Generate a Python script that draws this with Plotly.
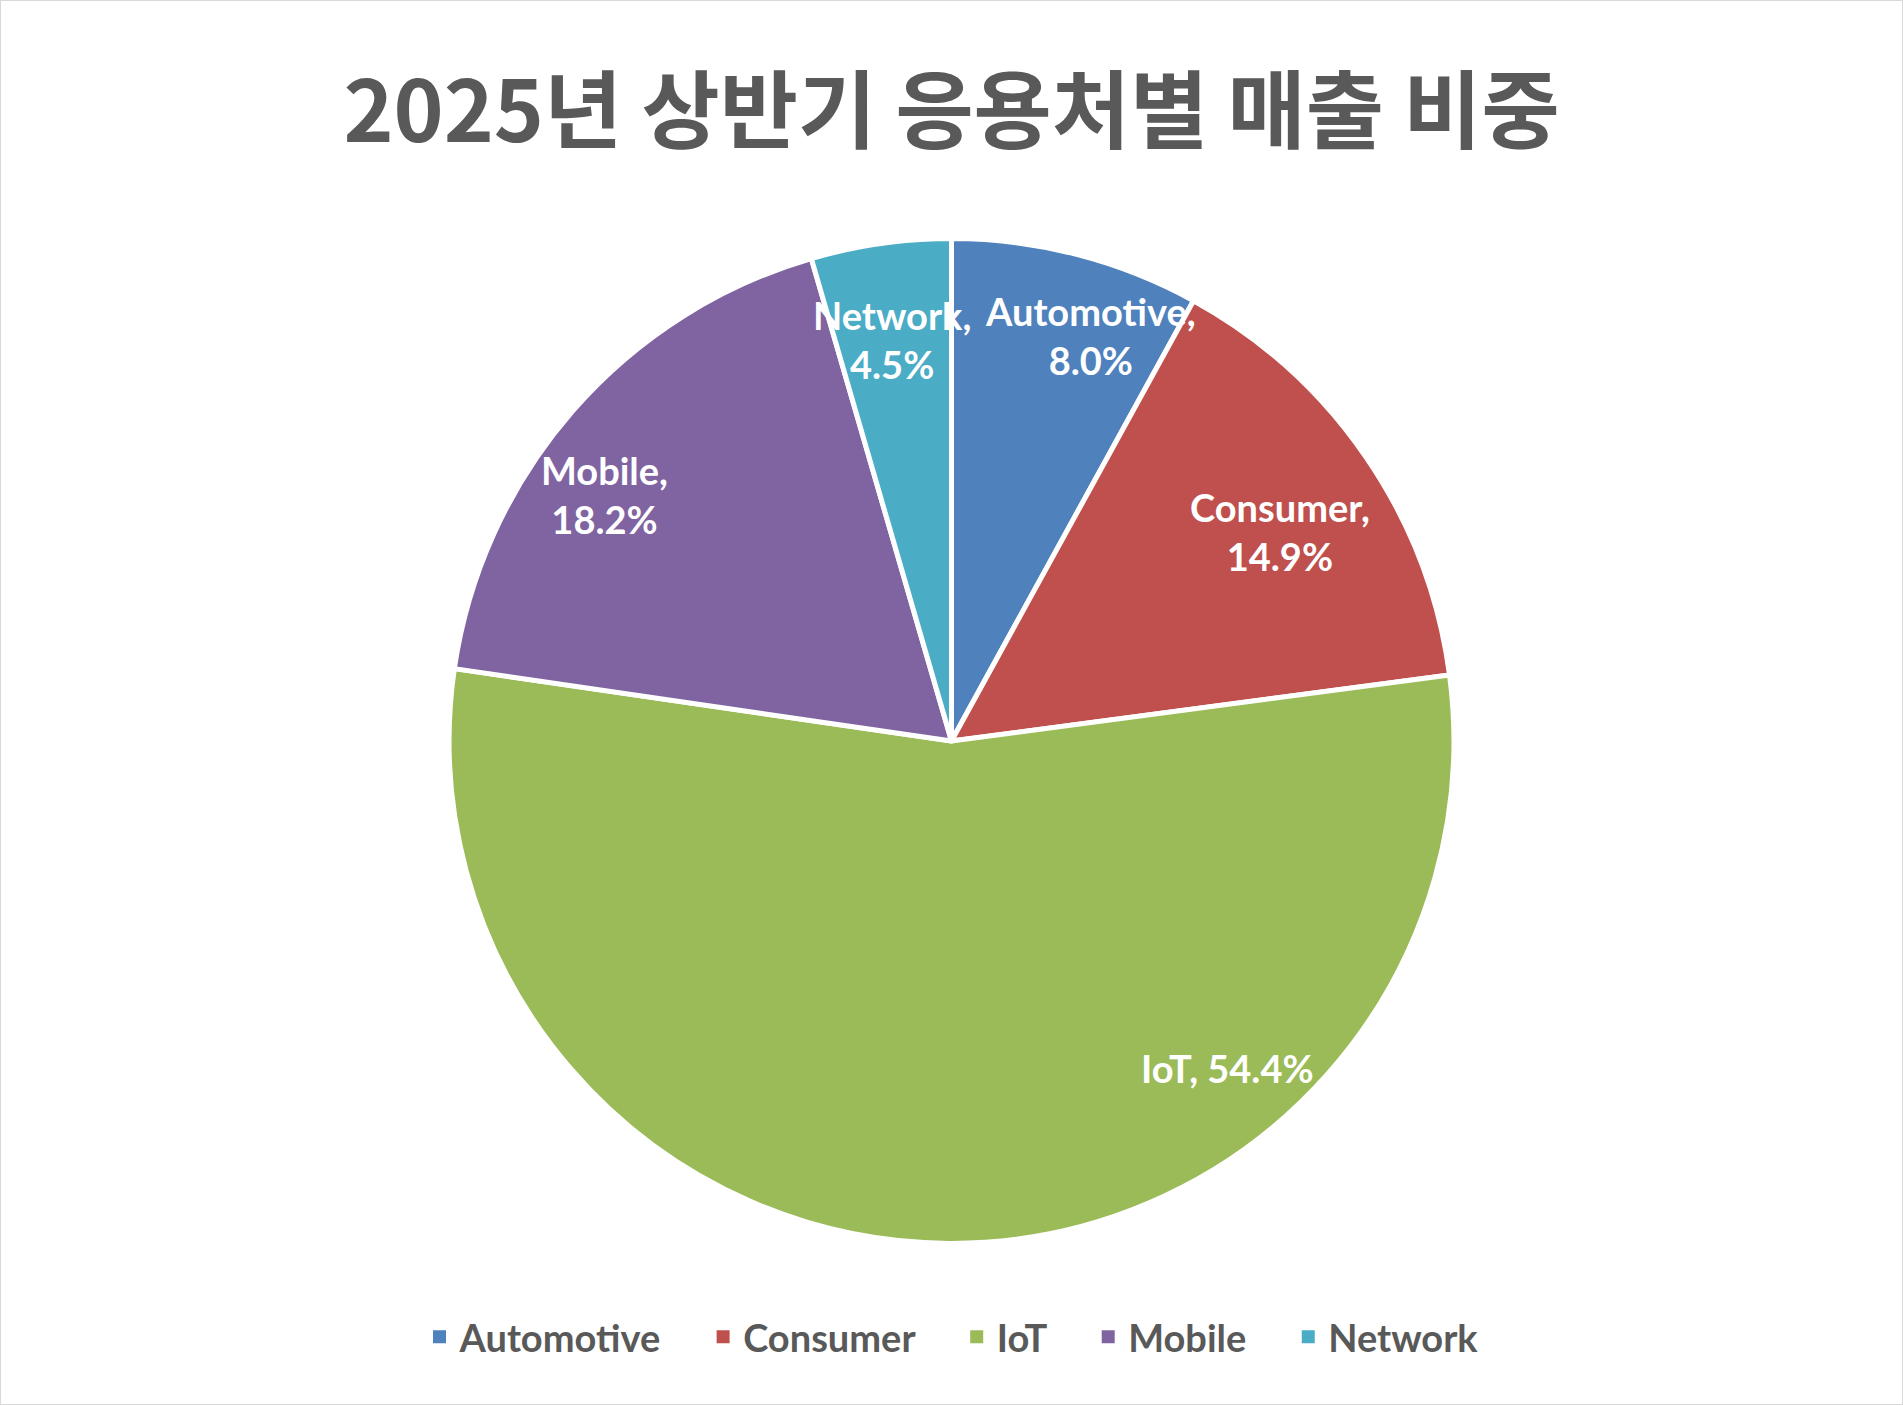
import math
import plotly.graph_objects as go

# 2025 H1 revenue share by application
categories = ["Automotive", "Consumer", "IoT", "Mobile", "Network"]
shares = [8.0, 14.9, 54.4, 18.2, 4.5]
colors = ["#4F81BD", "#C0504D", "#9BBB59", "#8064A2", "#4BACC6"]

title_text = "2025년 상반기 응용처별 매출 비중"

W, H = 1903, 1405
dom_x = [0.236, 0.764]
dom_y = [0.1146, 0.8306]

# where each data label sits: share of the way through its slice, and radius fraction
label_at = [0.656, 0.535, 0.293, 0.415, 0.48]
label_r = [0.853, 0.775, 0.852, 0.847, 0.807]
one_line = [False, False, True, False, False]

fig = go.Figure()
fig.add_trace(go.Pie(
    labels=categories,
    values=shares,
    sort=False,
    direction="clockwise",
    rotation=0,
    marker=dict(colors=colors, line=dict(color="white", width=5)),
    textinfo="none",
    domain=dict(x=dom_x, y=dom_y),
    hoverinfo="label+percent",
    showlegend=False,
))

# legend entries (square swatches), no visible marks; nbsp padding widens the gaps
pad = "\u00a0" * 4
for i, (c, col) in enumerate(zip(categories, colors)):
    fig.add_trace(go.Scatter(
        x=[None], y=[None], mode="markers",
        name=c + (pad if i < len(categories) - 1 else ""),
        marker=dict(symbol="square", size=13, color=col),
        hoverinfo="skip",
    ))

# data labels, placed from the cumulative shares
cx = (dom_x[0] + dom_x[1]) / 2
cy = (dom_y[0] + dom_y[1]) / 2
R = min((dom_x[1] - dom_x[0]) * W, (dom_y[1] - dom_y[0]) * H) / 2
total = sum(shares)
start = 0.0
annotations = []
for c, v, f, r, single in zip(categories, shares, label_at, label_r, one_line):
    pct = 100 * v / total
    theta = 2 * math.pi * (start + f * v) / total
    start += v
    sep = ", " if single else ",<br>"
    annotations.append(dict(
        text=f"{c}{sep}{pct:.1f}%",
        xref="paper", yref="paper",
        x=cx + r * R * math.sin(theta) / W,
        y=cy + r * R * math.cos(theta) / H,
        xanchor="center", yanchor="middle", align="center",
        showarrow=False,
        font=dict(family="Lato, Noto Sans", size=38, color="white", weight="bold"),
    ))

fig.update_layout(
    width=W, height=H,
    margin=dict(l=0, r=0, t=0, b=0),
    paper_bgcolor="white",
    plot_bgcolor="white",
    title=dict(
        text=title_text,
        x=0.5, xanchor="center",
        y=1 - 112 / H, yanchor="middle",
        font=dict(family="Noto Sans CJK KR", size=85, color="#595959", weight="bold"),
    ),
    xaxis=dict(visible=False),
    yaxis=dict(visible=False),
    annotations=annotations,
    legend=dict(
        orientation="h",
        x=0.5, xanchor="center",
        y=1 - 1337 / H, yanchor="middle",
        font=dict(family="Lato, Noto Sans", size=38, color="#595959", weight="bold"),
        itemclick=False, itemdoubleclick=False,
    ),
    shapes=[dict(type="rect", xref="paper", yref="paper", x0=0, x1=1, y0=0, y1=1,
                 line=dict(color="#D9D9D9", width=2), layer="below")],
)

fig.write_html("out.html", config={"displayModeBar": False},
               post_script="document.body.style.margin='0';")
